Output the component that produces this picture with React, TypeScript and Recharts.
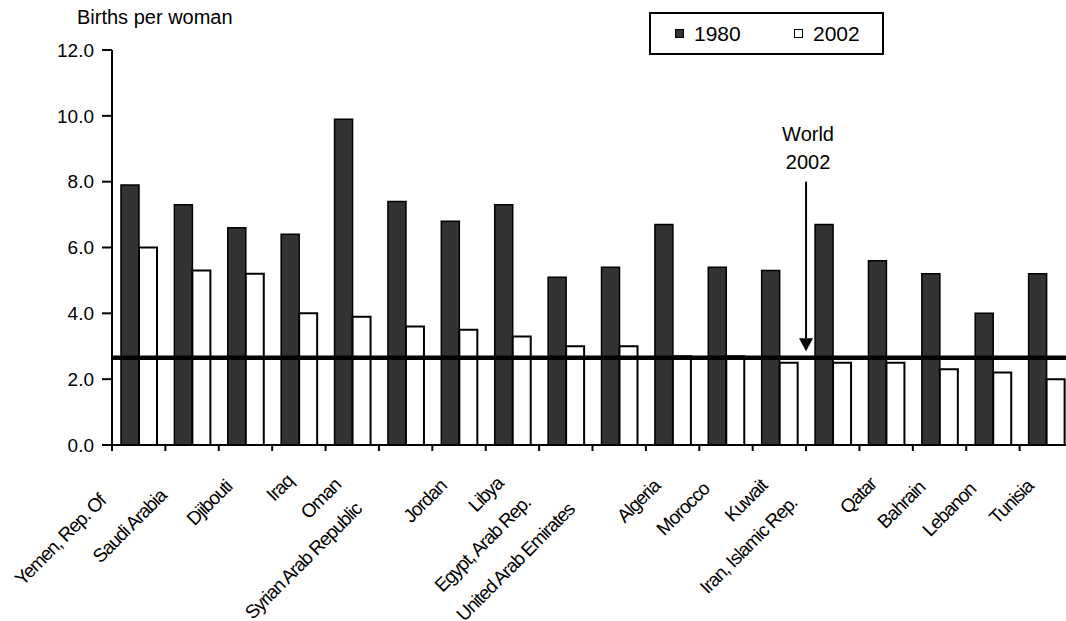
import { BarChart, Bar, XAxis, YAxis, ReferenceLine, Legend } from 'recharts';

const countries = [
  'Yemen, Rep. Of',
  'Saudi Arabia',
  'Djibouti',
  'Iraq',
  'Oman',
  'Syrian Arab Republic',
  'Jordan',
  'Libya',
  'Egypt, Arab Rep.',
  'United Arab Emirates',
  'Algeria',
  'Morocco',
  'Kuwait',
  'Iran, Islamic Rep.',
  'Qatar',
  'Bahrain',
  'Lebanon',
  'Tunisia',
];
const fertility1980 = [7.9, 7.3, 6.6, 6.4, 9.9, 7.4, 6.8, 7.3, 5.1, 5.4, 6.7, 5.4, 5.3, 6.7, 5.6, 5.2, 4.0, 5.2];
const fertility2002 = [6.0, 5.3, 5.2, 4.0, 3.9, 3.6, 3.5, 3.3, 3.0, 3.0, 2.7, 2.7, 2.5, 2.5, 2.5, 2.3, 2.2, 2.0];
const yTicks = [0, 2, 4, 6, 8, 10, 12];

// world average line and the arrow pointing at it
const worldAverage2002 = 2.65;
const arrowCountry = 'Kuwait';
const arrowTop = 8.0;
const arrowTip = 2.85;

const data = countries.map((country, i) => ({
  country,
  y1980: fertility1980[i],
  y2002: fertility2002[i],
}));

const FONT = '"Liberation Sans", Arial, Helvetica, sans-serif';
const CHART_W = 1078;
const CHART_H = 621;
const Y_AXIS_W = 112;
const MARGIN = { top: 50, right: 5, bottom: 0, left: 0 };
const BAND = (CHART_W - MARGIN.left - MARGIN.right - Y_AXIS_W) / countries.length;

const LABEL_SIZE = 19;
const LABEL_SPACING = -1.1;
let measureCtx: CanvasRenderingContext2D | null = null;

function labelLength(text: string) {
  if (!measureCtx) measureCtx = document.createElement('canvas').getContext('2d');
  if (!measureCtx) return text.length * LABEL_SIZE * 0.5;
  measureCtx.font = `${LABEL_SIZE}px ${FONT}`;
  return measureCtx.measureText(text).width + LABEL_SPACING * text.length;
}

// Excel-style category axis: ticks between categories, slanted labels
function CountryTick(props: any) {
  const { x, y, payload, index } = props;
  const left = x - BAND / 2;
  const len = labelLength(payload.value);
  const ax = x - 0.3 * len + 4;
  const ay = y + 31 + 0.22 * len;
  return (
    <g>
      <line x1={left} y1={y} x2={left} y2={y + 6} stroke="#000" strokeWidth={2} />
      {index === countries.length - 1 && (
        <line x1={left + BAND} y1={y} x2={left + BAND} y2={y + 6} stroke="#000" strokeWidth={2} />
      )}
      <text
        x={ax}
        y={ay}
        transform={`rotate(-45 ${ax} ${ay})`}
        textAnchor="end"
        fontSize={LABEL_SIZE}
        letterSpacing={LABEL_SPACING}
        fontFamily={FONT}
        fill="#000"
      >
        {payload.value}
      </text>
    </g>
  );
}

function WorldArrow(props: any) {
  const { x1, y1, y2 } = props;
  const head = 13;
  return (
    <g>
      <text x={x1 + 2} y={y1 - 41} textAnchor="middle" fontSize={20} fontFamily={FONT} fill="#000">
        World
      </text>
      <text x={x1 + 2} y={y1 - 13} textAnchor="middle" fontSize={20} fontFamily={FONT} fill="#000">
        2002
      </text>
      <line x1={x1} y1={y1} x2={x1} y2={y2 - head} stroke="#000" strokeWidth={2} />
      <path d={`M${x1 - 7},${y2 - head} L${x1 + 7},${y2 - head} L${x1},${y2} Z`} fill="#000" />
    </g>
  );
}

function LegendBox({ payload }: any) {
  return (
    <div
      style={{
        border: '2px solid #000',
        height: 43,
        boxSizing: 'border-box',
        position: 'relative',
        background: '#fff',
        fontFamily: FONT,
      }}
    >
      {(payload || []).map((entry: any, i: number) => (
        <div
          key={entry.value}
          style={{
            position: 'absolute',
            left: i === 0 ? 24 : 143,
            top: 0,
            height: 39,
            display: 'flex',
            alignItems: 'center',
          }}
        >
          <span
            style={{
              display: 'inline-block',
              width: 9,
              height: 9,
              boxSizing: 'border-box',
              border: '1.5px solid #000',
              background: entry.color,
              marginRight: 10,
            }}
          />
          <span style={{ fontSize: 21, color: '#000', lineHeight: '24px' }}>{entry.value}</span>
        </div>
      ))}
    </div>
  );
}

export default function App() {
  return (
    <div
      style={{
        position: 'fixed',
        left: 0,
        top: 0,
        width: 1066,
        height: 621,
        overflow: 'hidden',
        background: '#fff',
        fontFamily: FONT,
      }}
    >
      <div
        style={{
          position: 'absolute',
          left: 77,
          top: 7,
          fontSize: 20,
          lineHeight: '20px',
          color: '#000',
          whiteSpace: 'nowrap',
        }}
      >
        Births per woman
      </div>
      <BarChart width={CHART_W} height={CHART_H} data={data} margin={MARGIN} barGap={0} barSize={18}>
        <XAxis
          dataKey="country"
          interval={0}
          height={CHART_H - 445}
          tickSize={0}
          tickMargin={0}
          tickLine={false}
          axisLine={{ stroke: '#000', strokeWidth: 2 }}
          tick={<CountryTick />}
        />
        <YAxis
          width={Y_AXIS_W}
          domain={[0, 12]}
          ticks={yTicks}
          interval={0}
          tickFormatter={(v: number) => v.toFixed(1)}
          tickSize={10}
          tickMargin={8}
          tickLine={{ stroke: '#000', strokeWidth: 2 }}
          axisLine={{ stroke: '#000', strokeWidth: 2 }}
          tick={{ fontSize: 19, fill: '#000', fontFamily: FONT }}
        />
        <Legend
          layout="horizontal"
          verticalAlign="middle"
          align="center"
          wrapperStyle={{ top: 12, left: 649, width: 235, height: 43 }}
          content={<LegendBox />}
        />
        <Bar dataKey="y1980" name="1980" fill="#333333" stroke="#000" strokeWidth={1.5} isAnimationActive={false} />
        <Bar dataKey="y2002" name="2002" fill="#ffffff" stroke="#000" strokeWidth={2} isAnimationActive={false} />
        <ReferenceLine y={worldAverage2002} stroke="#000" strokeWidth={4.5} />
        <ReferenceLine
          segment={[
            { x: arrowCountry, y: arrowTop },
            { x: arrowCountry, y: arrowTip },
          ]}
          position="end"
          shape={<WorldArrow />}
        />
      </BarChart>
    </div>
  );
}
